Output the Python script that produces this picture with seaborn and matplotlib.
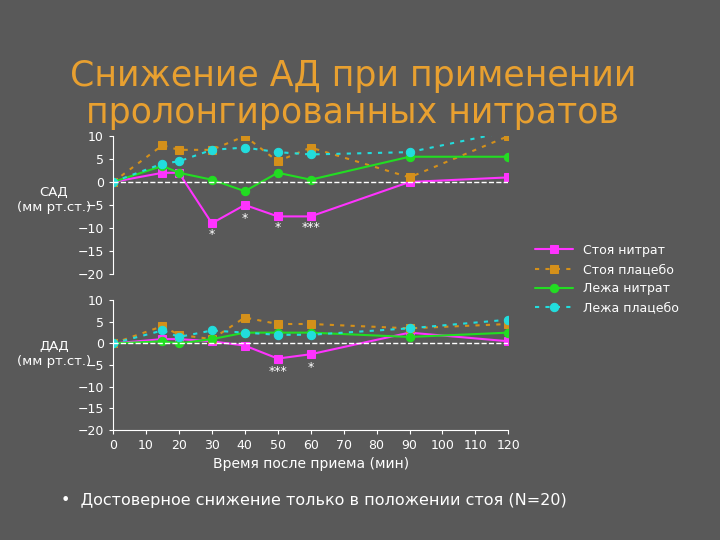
import matplotlib
matplotlib.use("Agg")
import matplotlib.pyplot as plt
import seaborn as sns
import pandas as pd

times = [0, 15, 20, 30, 40, 50, 60, 90, 120]
sad_stand_nitrate = [0, 2, 2, -9, -5, -7.5, -7.5, 0, 1]
sad_stand_placebo = [0, 8, 7, 7, 10, 4.5, 7.5, 1, 10]
sad_lie_nitrate = [0, 3.5, 2, 0.5, -2, 2, 0.5, 5.5, 5.5]
sad_lie_placebo = [0, 4, 4.5, 7, 7.5, 6.5, 6, 6.5, 11]
dad_stand_nitrate = [0, 1, 1, 0.5, -0.5, -3.5, -2.5, 2.5, 0.5]
dad_stand_placebo = [0, 4, 2, 1, 6, 4.5, 4.5, 3.5, 4.5]
dad_lie_nitrate = [0, 0.5, 0, 1, 2.5, 2.5, 2.5, 1.5, 2.5]
dad_lie_placebo = [0, 3, 1.5, 3, 2.5, 2, 2, 3.5, 5.5]
series_names = ["Стоя нитрат", "Стоя плацебо", "Лежа нитрат", "Лежа плацебо"]
sad_stars = [(30, "*", -11.5), (40, "*", -8), (50, "*", -10), (60, "***", -10)]
dad_stars = [(50, "***", -6.5), (60, "*", -5.5)]

colors = ["#ff33ff", "#d4901a", "#22dd22", "#22dddd"]
markers = ["s", "s", "o", "o"]
styles = ["-", (0, (2, 3)), "-", (0, (2, 3))]
BG = "#595959"

sns.set_style("dark")
plt.rcParams["font.family"] = ["DejaVu Sans"]
fig = plt.figure(figsize=(7.2, 5.4), dpi=100, facecolor=BG)
ax1 = fig.add_axes([0.157, 0.493, 0.549, 0.255])
ax2 = fig.add_axes([0.157, 0.204, 0.549, 0.24])

def draw(ax, data, stars, legend):
    for name, vals, c, m, ls in zip(series_names, data, colors, markers, styles):
        df = pd.DataFrame({"t": times, "v": vals})
        sns.lineplot(data=df, x="t", y="v", ax=ax, color=c, marker=m, markersize=6,
                     markeredgecolor=c, linestyle=ls, linewidth=1.5,
                     label=name if legend else None)
    ax.axhline(0, color="white", linestyle="--", linewidth=1)
    for x, s, y in stars:
        ax.text(x, y, s, color="white", ha="center", va="center", fontsize=9)
    ax.set_facecolor(BG)
    ax.set_xlim(0, 120)
    ax.set_ylim(-20, 10)
    ax.set_yticks([10, 5, 0, -5, -10, -15, -20])
    ax.tick_params(colors="white", labelsize=9, length=3, left=True, bottom=True)
    for s in ["top", "right"]:
        ax.spines[s].set_visible(False)
    ax.spines["left"].set_color("white")
    ax.spines["bottom"].set_color("white")
    ax.set_xlabel("")
    ax.set_ylabel("")
    ax.grid(False)

draw(ax1, [sad_stand_nitrate, sad_stand_placebo, sad_lie_nitrate, sad_lie_placebo], sad_stars, True)
draw(ax2, [dad_stand_nitrate, dad_stand_placebo, dad_lie_nitrate, dad_lie_placebo], dad_stars, False)
ax1.set_xticks([])
ax1.spines["bottom"].set_visible(False)
ax2.set_xticks(list(range(0, 121, 10)))
ax2.set_xlabel("Время после приема (мин)", color="white", fontsize=10)

leg = ax1.legend(loc="upper left", bbox_to_anchor=(1.04, 0.3), frameon=False,
                 labelcolor="white", fontsize=9, handlelength=3)

fig.text(0.075, 0.63, "САД\n(мм рт.ст.)", color="white", ha="center", va="center", fontsize=9.5)
fig.text(0.075, 0.345, "ДАД\n(мм рт.ст.)", color="white", ha="center", va="center", fontsize=9.5)
fig.text(0.49, 0.825, "Снижение АД при применении\nпролонгированных нитратов",
         color="#e8a030", ha="center", va="center", fontsize=25, linespacing=1.1)
fig.text(0.085, 0.073, "•  Достоверное снижение только в положении стоя (N=20)",
         color="white", ha="left", va="center", fontsize=11.5)

fig.savefig("out.png", facecolor=BG)
